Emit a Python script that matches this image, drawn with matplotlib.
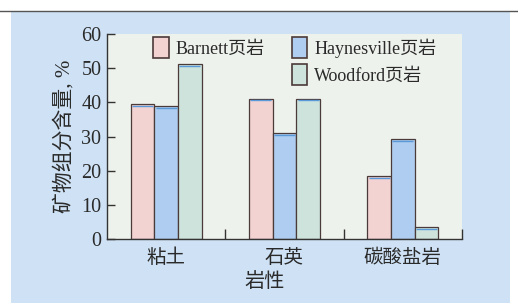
import numpy as np
import matplotlib.pyplot as plt
from matplotlib.patches import Rectangle

categories = ['粘土', '石英', '碳酸盐岩']
barnett = [39.5, 41.1, 18.3]
haynesville = [38.8, 31.0, 29.2]
woodford = [51.2, 41.1, 3.5]
series_names = ['Barnett页岩', 'Haynesville页岩', 'Woodford页岩']

plt.rcParams['font.family'] = ['Liberation Serif', 'Noto Sans CJK SC']

fig = plt.figure(figsize=(5.18, 3.03), dpi=100, facecolor='white')
# page background (scanned look)
fig.add_artist(Rectangle((11 / 518, 0), 499 / 518, 292 / 303, transform=fig.transFigure,
                         facecolor='#cfe2f5', edgecolor='none', zorder=-10))
fig.add_artist(plt.Line2D([0, 1], [292 / 303, 292 / 303], transform=fig.transFigure,
                          color='#555555', lw=1.0, zorder=-5))

ax = fig.add_axes([107 / 518, 1 - 239 / 303, 355 / 518, 205 / 303])
ax.set_facecolor('#eef2ec')

txt = '#2a2a2a'
x = np.arange(len(categories))
w = 0.2
colors = ['#f3d2d2', '#aecdf0', '#cde3dc']
edge = '#4a3a38'
for i, (vals, c) in enumerate(zip([barnett, haynesville, woodford], colors)):
    pos = x + (i - 1) * w
    ax.bar(pos, vals, width=w, color=c, edgecolor=edge, linewidth=0.9, zorder=2)
    # thin blue print stripe just under the bar top
    ax.hlines(np.array(vals) - 0.45, pos - w / 2 + 0.01, pos + w / 2 - 0.01,
              color='#5a9ad8', lw=1.0, zorder=3)

ax.set_xlim(-0.5, 2.5)
ax.set_ylim(0, 60)
ax.set_yticks(range(0, 61, 10))
ax.set_xticks(x)
ax.set_xticklabels(categories, fontsize=14, family=['Noto Sans CJK SC'], color=txt)
ax.set_xticks([0.5, 1.5, 2.5], minor=True)
ax.tick_params(axis='x', which='major', length=0, pad=6)
ax.tick_params(axis='x', which='minor', direction='in', length=7, width=1, color='#333333')
ax.tick_params(axis='y', direction='in', length=6, width=1, color='#333333',
               labelsize=14.5, labelcolor=txt, pad=4)
for s in ['top', 'right']:
    ax.spines[s].set_visible(False)
for s in ['left', 'bottom']:
    ax.spines[s].set_color('#333333')
    ax.spines[s].set_linewidth(1.0)

ax.set_ylabel('矿物组分含量, %', fontsize=15, color=txt, labelpad=5)
ax.set_xlabel('岩性', fontsize=14.5, color=txt, family=['Noto Sans CJK SC'])
ax.xaxis.set_label_coords(0.445, -0.155)

handles = [Rectangle((0, 0), 1, 1, facecolor=c, edgecolor=edge, lw=1.2) for c in colors]
leg_kw = dict(frameon=False, fontsize=13, handlelength=0.85, handleheight=1.4,
              handletextpad=0.4, labelspacing=0.35, borderaxespad=0)
leg1 = ax.legend(handles[:1], series_names[:1], loc='upper left',
                 bbox_to_anchor=(0.11, 1.02), **leg_kw)
ax.add_artist(leg1)
for t in leg1.get_texts():
    t.set_color(txt)
leg2 = ax.legend(handles[1:], series_names[1:], loc='upper left',
                 bbox_to_anchor=(0.5, 1.02), **leg_kw)
for t in leg2.get_texts():
    t.set_color(txt)

fig.savefig('out.png', dpi=100)
